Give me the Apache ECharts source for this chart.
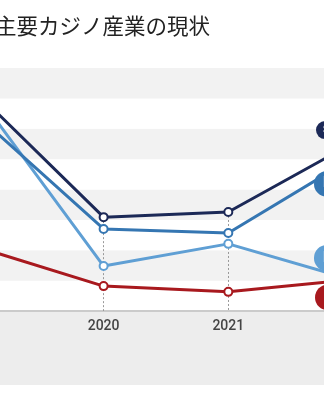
<!DOCTYPE html>
<html><head><meta charset="utf-8">
<script src="https://cdn.jsdelivr.net/npm/echarts@6/dist/echarts.min.js"></script>
<style>html,body{margin:0;padding:0;background:#fff;overflow:hidden;width:324px;height:400px}#c{position:absolute;left:-40px;top:0;width:420px;height:400px}</style>
</head><body><div id="c"></div>
<script>
var titleText = '主要カジノ産業の現状';
var categories = ['2019', '2020', '2021', '2022'];
var seriesNames = ['S', 'M', 'L', 'K'];
var navyValues = [71.1, 30.9, 32.6, 55.3];
var mediumValues = [63.9, 27.0, 25.7, 50.4];
var lightValues = [70.5, 14.8, 22.1, 10.2];
var redValues = [20.9, 8.2, 6.3, 10.4];
var yMin = 0, yMax = 80, yInterval = 10;

var chart = echarts.init(document.getElementById('c'), null, {renderer: 'canvas'});

function mk(name, data, color, labelOffset, labelSize, drop) {
  var s = {
    name: name, type: 'line', data: data,
    symbol: 'circle', symbolSize: 8,
    itemStyle: {color: '#fff', borderColor: color, borderWidth: 2},
    lineStyle: {color: color, width: 3},
    z: 3,
    endLabel: {
      show: true, formatter: name, color: '#fff', backgroundColor: color,
      borderRadius: labelSize, padding: [labelSize / 2 - 1, labelSize / 2 + 2],
      fontSize: labelSize, fontFamily: 'Roboto', fontWeight: 'bold',
      offset: labelOffset, distance: 0, align: 'left'
    }
  };
  if (drop) {
    s.markLine = {
      symbol: 'none', silent: true, label: {show: false},
      lineStyle: {color: '#999', type: [2, 2], width: 1},
      z: 1,
      data: categories.slice(1, 3).map(function (c, i) {
        return [{coord: [c, data[i + 1]]}, {coord: [c, yMin]}];
      })
    };
  }
  return s;
}

chart.setOption({
  animation: false,
  backgroundColor: '#fff',
  title: {
    text: titleText, left: 30, top: 10,
    textStyle: {fontFamily: 'Noto Sans CJK JP', fontSize: 21.5, fontWeight: 'normal', color: '#222'}
  },
  graphic: [{
    type: 'rect', left: 0, top: 312, shape: {width: 420, height: 73},
    style: {fill: '#ededed'}, z: -10, silent: true
  }],
  grid: {left: 12, right: 27, top: 68, bottom: 89, containLabel: false},
  xAxis: {
    type: 'category', data: categories, boundaryGap: false,
    axisLine: {lineStyle: {color: '#bbbbbb', width: 1.5}},
    axisTick: {show: false},
    axisLabel: {color: '#444', fontSize: 14, fontFamily: 'Roboto', fontWeight: 500, margin: 8},
    splitLine: {show: false}
  },
  yAxis: {
    type: 'value', min: yMin, max: yMax, interval: yInterval,
    axisLabel: {show: false}, axisLine: {show: false}, axisTick: {show: false},
    splitLine: {show: false},
    splitArea: {show: true, areaStyle: {color: ['#ffffff', '#f2f2f2']}}
  },
  series: [
    mk(seriesNames[3], redValues, '#a8191e', [-38, 18], 14, false),
    mk(seriesNames[2], lightValues, '#5f9fd4', [-39, -22], 14, false),
    mk(seriesNames[1], mediumValues, '#3576b2', [-39, 26], 14, false),
    mk(seriesNames[0], navyValues, '#1c2957', [-37, -13], 10, true)
  ]
});
</script></body></html>
